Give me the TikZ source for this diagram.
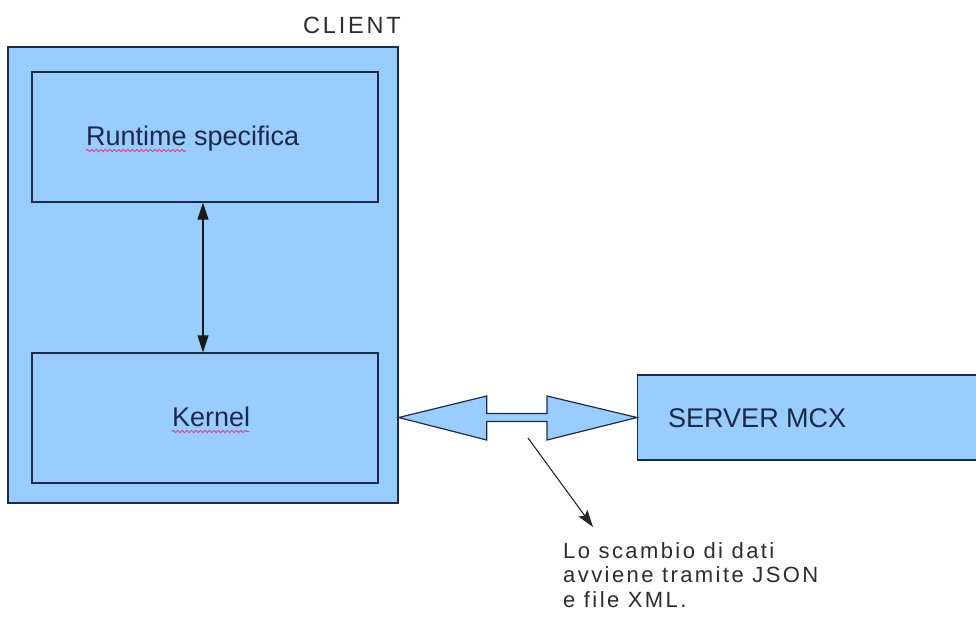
\documentclass[tikz,border=0pt]{standalone}
\usepackage{fontspec}
\setmainfont{Liberation Sans}
\newfontfamily\spacedfont[LetterSpace=12]{Liberation Sans}
\newfontfamily\notefont[LetterSpace=11]{Liberation Sans}
\usetikzlibrary{arrows.meta,decorations.pathmorphing,calc}
\definecolor{boxfill}{HTML}{99CCFF}
\definecolor{boxline}{HTML}{1E2B47}
\definecolor{boxtext}{HTML}{1C2A4A}
\definecolor{notetext}{HTML}{2C2C2C}
\definecolor{spellred}{HTML}{E0407A}
\begin{document}
\begin{tikzpicture}[x=1pt,y=-1pt,
  box/.style={draw=boxline,fill=boxfill,line width=1.3pt,inner sep=0pt,rectangle},
  label/.style={inner sep=0pt,text=boxtext,font=\fontsize{27}{30}\selectfont},
  link/.style={line width=1.3pt,draw=black!90},
  squiggle/.style={draw=spellred,line width=0.9pt,
    decorate,decoration={snake,amplitude=1.1pt,segment length=4.5pt}}]
\useasboundingbox (0,0) rectangle (976,619);

% client frame and its two layers
\node[box,minimum width=390pt,minimum height=456pt] (client) at (203,275) {};
\node[box,minimum width=346pt,minimum height=130pt] (runtime) at (205,137) {};
\node[box,minimum width=346pt,minimum height=130pt] (kernel) at (205,418) {};
\node[inner sep=0pt,anchor=base west,text=notetext,
  font=\spacedfont\fontsize{23.5}{26}\selectfont] (clientlbl) at (303,33) {CLIENT};

% layer labels with spell-check marks
\node[label,anchor=base west] (rtlbl) at (86,145) {Runtime specifica};
\node[label,anchor=base west] (krlbl) at (172,426) {Kernel};
\draw[squiggle] (86,150.5) -- (186,150.5);
\draw[squiggle] (172,431.5) -- (249,431.5);

% server box, running off the right edge
\node[box,anchor=west,minimum width=360pt,minimum height=85pt] (server) at (637,417.5) {};
\node[label,anchor=base west] (srvlbl) at (668,427) {SERVER MCX};

% runtime <-> kernel
\draw[link,{Triangle[length=17pt,width=11pt]}-{Triangle[length=17pt,width=11pt]}]
  ([xshift=-2pt]runtime.south) -- ([xshift=-2pt]kernel.north);

% block double arrow between client and server
\coordinate (bl) at (client.east |- server.west);
\coordinate (br) at (server.west);
\draw[draw=boxline,fill=boxfill,line width=1.2pt,line join=miter]
  (bl) -- ($(bl)+(88,-21.5)$) -- ($(bl)+(88,-4)$) -- ($(br)+(-90,-4)$)
  -- ($(br)+(-90,-21.5)$) -- (br) -- ($(br)+(-90,22.5)$) -- ($(br)+(-90,4)$)
  -- ($(bl)+(88,4)$) -- ($(bl)+(88,22.5)$) -- cycle;

% note about the data exchange
\node[inner sep=0pt,anchor=north west,align=left,text=notetext,
  font=\notefont\fontsize{22}{24.5}\selectfont] (note) at (563,542)
  {Lo scambio di dati\\avviene tramite JSON\\e file XML.};
\coordinate (ns) at (528,438);
\coordinate (nt) at (593,527);
\draw[line width=1.1pt,draw=black!85,-{Stealth[length=17pt,width=11pt,inset=3pt]}] (ns) -- (nt);
\end{tikzpicture}
\end{document}
